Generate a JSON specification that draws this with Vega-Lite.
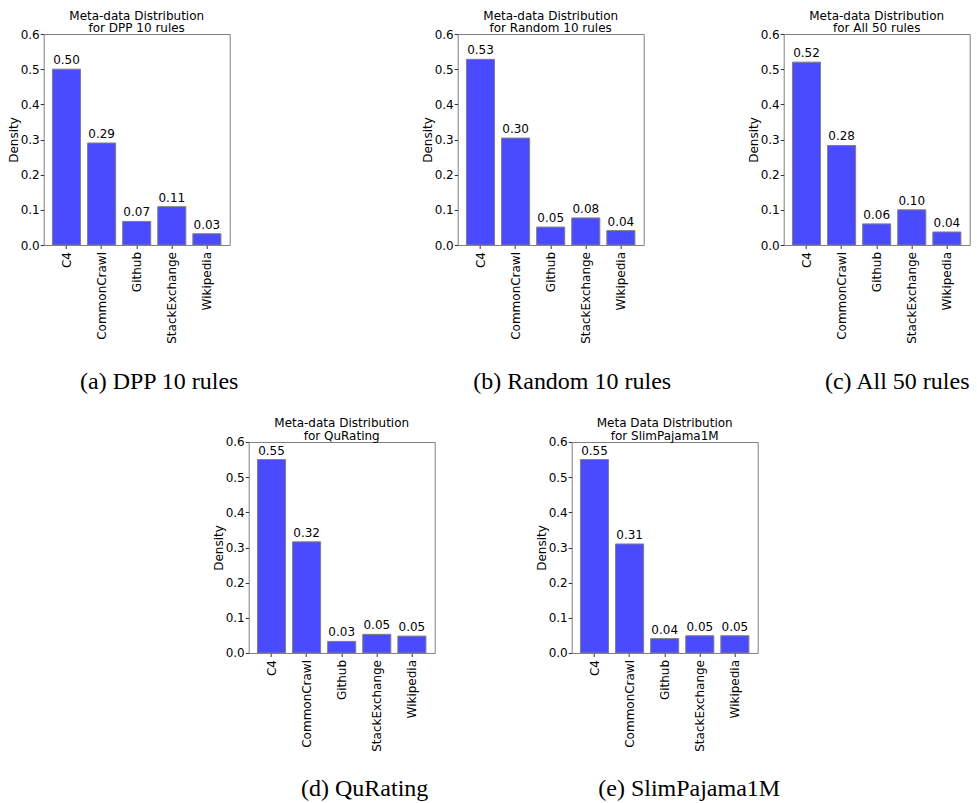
{
  "$schema": "https://vega.github.io/schema/vega-lite/v6.json",
  "padding": {"left": 5.7, "top": 9, "right": 0, "bottom": 0},
  "background": "white",
  "data": {"values": [
    {"panel": "a", "source": "C4", "density": 0.500},
    {"panel": "a", "source": "CommonCrawl", "density": 0.290},
    {"panel": "a", "source": "Github", "density": 0.067},
    {"panel": "a", "source": "StackExchange", "density": 0.109},
    {"panel": "a", "source": "Wikipedia", "density": 0.032},
    {"panel": "b", "source": "C4", "density": 0.528},
    {"panel": "b", "source": "CommonCrawl", "density": 0.304},
    {"panel": "b", "source": "Github", "density": 0.051},
    {"panel": "b", "source": "StackExchange", "density": 0.077},
    {"panel": "b", "source": "Wikipedia", "density": 0.041},
    {"panel": "c", "source": "C4", "density": 0.520},
    {"panel": "c", "source": "CommonCrawl", "density": 0.283},
    {"panel": "c", "source": "Github", "density": 0.060},
    {"panel": "c", "source": "StackExchange", "density": 0.100},
    {"panel": "c", "source": "Wikipedia", "density": 0.037},
    {"panel": "d", "source": "C4", "density": 0.550},
    {"panel": "d", "source": "CommonCrawl", "density": 0.316},
    {"panel": "d", "source": "Github", "density": 0.033},
    {"panel": "d", "source": "StackExchange", "density": 0.053},
    {"panel": "d", "source": "Wikipedia", "density": 0.048},
    {"panel": "e", "source": "C4", "density": 0.550},
    {"panel": "e", "source": "CommonCrawl", "density": 0.310},
    {"panel": "e", "source": "Github", "density": 0.041},
    {"panel": "e", "source": "StackExchange", "density": 0.049},
    {"panel": "e", "source": "Wikipedia", "density": 0.049}
  ]},
  "vconcat": [
    {
      "hconcat": [
        {
          "width": 186, "height": 211,
          "title": {"text": ["Meta-data Distribution", "for DPP 10 rules"]},
          "transform": [{"filter": "datum.panel === 'a'"}],
          "encoding": {
            "x": {"field": "source", "type": "nominal", "sort": null, "scale": {"paddingInner": 0.2, "paddingOuter": 0.25}, "axis": {"title": "(a) DPP 10 rules", "titleX": 115}},
            "y": {"field": "density", "type": "quantitative", "scale": {"domain": [0, 0.6]}, "axis": {"title": "Density", "values": [0, 0.1, 0.2, 0.3, 0.4, 0.5, 0.6], "format": ".1f"}}
          },
          "layer": [
            {"mark": {"type": "bar", "fill": "#4a4aff", "stroke": "#7f7f7f", "strokeWidth": 1}},
            {"mark": {"type": "text", "baseline": "alphabetic", "dy": -5, "fontSize": 12, "font": "DejaVu Sans", "color": "black"}, "encoding": {"text": {"field": "density", "format": ".2f"}}}
          ]
        },
        {
          "hconcat": [
            {
              "width": 186, "height": 211,
              "title": {"text": ["Meta-data Distribution", "for Random 10 rules"]},
              "transform": [{"filter": "datum.panel === 'b'"}],
              "encoding": {
                "x": {"field": "source", "type": "nominal", "sort": null, "scale": {"paddingInner": 0.2, "paddingOuter": 0.25}, "axis": {"title": "(b) Random 10 rules", "titleX": 114}},
                "y": {"field": "density", "type": "quantitative", "scale": {"domain": [0, 0.6]}, "axis": {"title": "Density", "values": [0, 0.1, 0.2, 0.3, 0.4, 0.5, 0.6], "format": ".1f"}}
              },
              "layer": [
                {"mark": {"type": "bar", "fill": "#4a4aff", "stroke": "#7f7f7f", "strokeWidth": 1}},
                {"mark": {"type": "text", "baseline": "alphabetic", "dy": -5, "fontSize": 12, "font": "DejaVu Sans", "color": "black"}, "encoding": {"text": {"field": "density", "format": ".2f"}}}
              ]
            },
            {
              "width": 186, "height": 211,
              "title": {"text": ["Meta-data Distribution", "for All 50 rules"]},
              "transform": [{"filter": "datum.panel === 'c'"}],
              "encoding": {
                "x": {"field": "source", "type": "nominal", "sort": null, "scale": {"paddingInner": 0.2, "paddingOuter": 0.25}, "axis": {"title": "(c) All 50 rules", "titleX": 113}},
                "y": {"field": "density", "type": "quantitative", "scale": {"domain": [0, 0.6]}, "axis": {"title": "Density", "values": [0, 0.1, 0.2, 0.3, 0.4, 0.5, 0.6], "format": ".1f"}}
              },
              "layer": [
                {"mark": {"type": "bar", "fill": "#4a4aff", "stroke": "#7f7f7f", "strokeWidth": 1}},
                {"mark": {"type": "text", "baseline": "alphabetic", "dy": -5, "fontSize": 12, "font": "DejaVu Sans", "color": "black"}, "encoding": {"text": {"field": "density", "format": ".2f"}}}
              ]
            }
          ],
          "spacing": 74
        }
      ],
      "spacing": 180
    },
    {
      "hconcat": [
        {
          "width": 69, "height": 211,
          "transform": [{"filter": "false"}],
          "mark": {"type": "point", "opacity": 0},
          "view": {"stroke": null}
        },
        {
          "width": 186, "height": 211,
          "title": {"text": ["Meta-data Distribution", "for QuRating"]},
          "transform": [{"filter": "datum.panel === 'd'"}],
          "encoding": {
            "x": {"field": "source", "type": "nominal", "sort": null, "scale": {"paddingInner": 0.2, "paddingOuter": 0.25}, "axis": {"title": "(d) QuRating", "titleX": 115.5}},
            "y": {"field": "density", "type": "quantitative", "scale": {"domain": [0, 0.6]}, "axis": {"title": "Density", "values": [0, 0.1, 0.2, 0.3, 0.4, 0.5, 0.6], "format": ".1f"}}
          },
          "layer": [
            {"mark": {"type": "bar", "fill": "#4a4aff", "stroke": "#7f7f7f", "strokeWidth": 1}},
            {"mark": {"type": "text", "baseline": "alphabetic", "dy": -5, "fontSize": 12, "font": "DejaVu Sans", "color": "black"}, "encoding": {"text": {"field": "density", "format": ".2f"}}}
          ]
        },
        {
          "width": 186, "height": 211,
          "title": {"text": ["Meta Data Distribution", "for SlimPajama1M"]},
          "transform": [{"filter": "datum.panel === 'e'"}],
          "encoding": {
            "x": {"field": "source", "type": "nominal", "sort": null, "scale": {"paddingInner": 0.2, "paddingOuter": 0.25}, "axis": {"title": "(e) SlimPajama1M", "titleX": 117}},
            "y": {"field": "density", "type": "quantitative", "scale": {"domain": [0, 0.6]}, "axis": {"title": "Density", "values": [0, 0.1, 0.2, 0.3, 0.4, 0.5, 0.6], "format": ".1f"}}
          },
          "layer": [
            {"mark": {"type": "bar", "fill": "#4a4aff", "stroke": "#7f7f7f", "strokeWidth": 1}},
            {"mark": {"type": "text", "baseline": "alphabetic", "dy": -5, "fontSize": 12, "font": "DejaVu Sans", "color": "black"}, "encoding": {"text": {"field": "density", "format": ".2f"}}}
          ]
        }
      ],
      "spacing": 98
    }
  ],
  "spacing": 23,
  "config": {
    "view": {"stroke": "#808080", "strokeWidth": 1},
    "title": {"font": "DejaVu Sans", "fontSize": 12, "fontWeight": "normal", "color": "black", "anchor": "middle", "offset": -7.5, "lineHeight": 13},
    "axis": {
      "labelFont": "DejaVu Sans", "labelFontSize": 12, "labelColor": "black",
      "titleFont": "DejaVu Sans", "titleFontSize": 12, "titleFontWeight": "normal", "titleColor": "black",
      "domain": false, "grid": false, "tickColor": "#333333", "tickSize": 3.5, "labelPadding": 1
    },
    "axisY": {"titlePadding": 0},
    "axisX": {
      "labelAngle": -90, "labelAlign": "right", "labelBaseline": "middle", "labelPadding": 3,
      "titleFont": "Liberation Serif", "titleFontSize": 24, "titleFontWeight": "normal",
      "titleY": 143, "titleBaseline": "alphabetic", "titleAlign": "center"
    }
  }
}
